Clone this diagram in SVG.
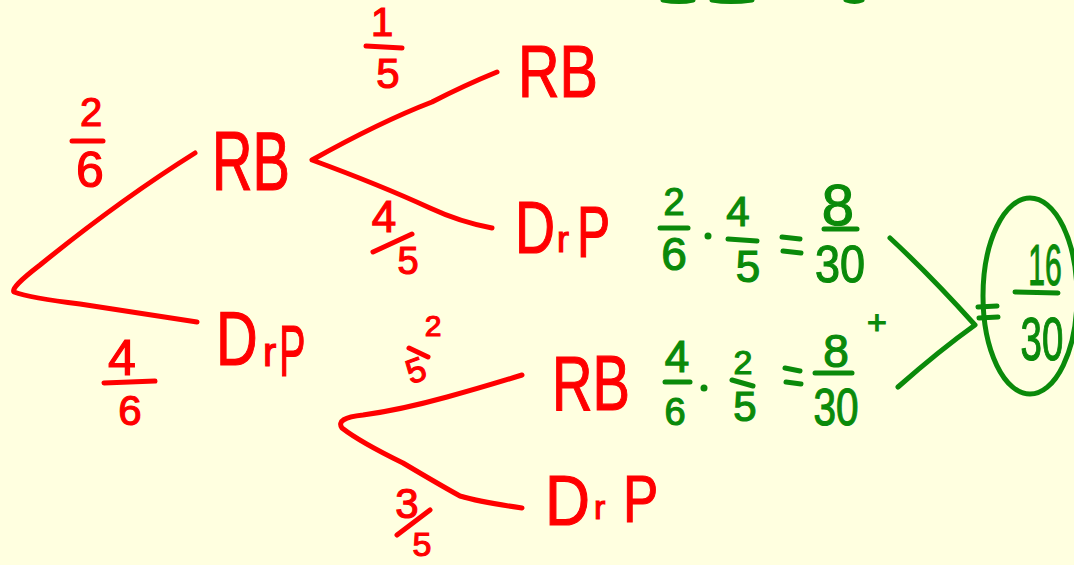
<svg xmlns="http://www.w3.org/2000/svg" width="1074" height="565" viewBox="0 0 1074 565">
<style>
.r{fill:#f00;stroke:#f00;stroke-width:1.2;font-family:"Liberation Sans",Arial,sans-serif;}
.g{fill:#0a8a0a;stroke:#0a8a0a;stroke-width:1.2;font-family:"Liberation Sans",Arial,sans-serif;}
.m{text-anchor:middle;}
.lr{fill:none;stroke:#f00;stroke-width:5;stroke-linecap:round;stroke-linejoin:round;}
.lg{fill:none;stroke:#0a8a0a;stroke-width:5;stroke-linecap:round;stroke-linejoin:round;}
</style>
<rect width="1074" height="565" fill="#ffffe0"/>
<g id="connectors">
<path class="lr" d="M195,153 Q120,200 40,265 Q10,288 14,292 Q30,298 80,304 L197,322"/>
<path class="lr" d="M497,72 Q465,85 432,102 Q380,122 312,160 Q380,185 430,208 Q460,222 492,228"/>
<path class="lr" d="M522,375 Q480,388 447,397 Q400,410 363,415 Q335,418 342,428 Q360,442 403,463 Q440,485 460,496 Q480,502 522,508"/>
<path class="lg" d="M890,238 Q930,275 975,325 Q940,350 898,387"/>
</g>
<g id="top-strokes">
<path class="lg" d="M663,0 Q680,3 693,0 M712,0 Q730,3 752,0 M846,0 Q855,3 862,0"/>
</g>
<g id="node-rb1"><text class="r" x="212" y="190" font-size="84" textLength="78" lengthAdjust="spacingAndGlyphs">RB</text></g>
<g id="node-drp1">
<text class="r" transform="translate(216,365) scale(0.76,1)" font-size="76">D</text>
<text class="r" transform="translate(263,366)" font-size="40">r</text>
<text class="r" transform="translate(279,376) scale(0.55,1)" font-size="72">P</text>
</g>
<g id="node-rb2"><text class="r" x="518" y="97" font-size="74" textLength="80" lengthAdjust="spacingAndGlyphs">RB</text></g>
<g id="node-drp2">
<text class="r" transform="translate(515,253) scale(0.75,1)" font-size="74">D</text>
<text class="r" transform="translate(557,252)" font-size="36">r</text>
<text class="r" transform="translate(577,257) scale(0.69,1)" font-size="72">P</text>
</g>
<g id="node-rb3"><text class="r" x="552" y="410" font-size="78" textLength="78" lengthAdjust="spacingAndGlyphs">RB</text></g>
<g id="node-drp3">
<text class="r" transform="translate(545,525) scale(0.89,1)" font-size="70">D</text>
<text class="r" transform="translate(594,519)" font-size="34">r</text>
<text class="r" transform="translate(623,522) scale(0.8,1)" font-size="66">P</text>
</g>
<g id="label-2-6">
<text class="r m" x="91" y="126" font-size="40">2</text>
<path class="lr" d="M72,141 L103,141"/>
<text class="r m" x="90" y="187" font-size="50">6</text>
</g>
<g id="label-4-6">
<text class="r m" x="122" y="375" font-size="50">4</text>
<path class="lr" d="M104,383 L155,381"/>
<text class="r m" x="130" y="425" font-size="42">6</text>
</g>
<g id="label-1-5">
<text class="r m" x="382" y="36" font-size="40">1</text>
<path class="lr" d="M366,46 L402,48"/>
<text class="r m" x="388" y="88" font-size="42">5</text>
</g>
<g id="label-4-5">
<text class="r m" x="384" y="232" font-size="44">4</text>
<path class="lr" d="M373,252 L412,234"/>
<text class="r m" x="408" y="274" font-size="38">5</text>
</g>
<g id="label-2-5">
<text class="r m" x="433" y="336" font-size="30">2</text>
<path class="lr" d="M409,348 L428,357"/>
<text class="r m" x="415" y="382" font-size="34" transform="rotate(-20 415 368)">5</text>
</g>
<g id="label-3-5">
<text class="r m" x="407" y="518" font-size="42">3</text>
<path class="lr" d="M397,535 L430,510"/>
<text class="r m" x="422" y="556" font-size="34">5</text>
</g>
<g id="eq1">
<text class="g m" x="674" y="215" font-size="38">2</text>
<path class="lg" d="M660,228 L688,228"/>
<text class="g m" x="674" y="270" font-size="46">6</text>
<circle cx="708" cy="236" r="3.5" fill="#0a8a0a"/>
<text class="g m" x="738" y="226" font-size="42">4</text>
<path class="lg" d="M728,239 L757,241"/>
<text class="g m" x="748" y="282" font-size="44">5</text>
<path class="lg" d="M782,237 L800,239 M783,251 L801,253"/>
<text class="g m" x="838" y="225" font-size="58">8</text>
<path class="lg" d="M824,229 L857,229"/>
<text class="g m" x="840" y="282" font-size="52" textLength="50" lengthAdjust="spacingAndGlyphs">30</text>
</g>
<g id="eq2">
<text class="g m" x="677" y="372" font-size="44">4</text>
<path class="lg" d="M665,382 L690,382"/>
<text class="g m" x="675" y="425" font-size="38">6</text>
<circle cx="704" cy="388" r="3.5" fill="#0a8a0a"/>
<text class="g m" x="743" y="374" font-size="34">2</text>
<path class="lg" d="M732,380 L753,386"/>
<text class="g m" x="745" y="421" font-size="42">5</text>
<path class="lg" d="M785,368 L800,371 M786,382 L801,384"/>
<text class="g m" x="836" y="367" font-size="46">8</text>
<path class="lg" d="M815,373 L852,373"/>
<text class="g m" x="836" y="425" font-size="52" textLength="45" lengthAdjust="spacingAndGlyphs">30</text>
</g>
<g id="plus"><text class="g m" x="877" y="334" font-size="34">+</text></g>
<g id="result">
<path class="lg" d="M978,307 L997,306 M979,318 L998,317"/>
<ellipse cx="1030" cy="296" rx="47" ry="98" class="lg"/>
<text class="g m" transform="translate(1045,285) scale(0.52,1)" font-size="58">16</text>
<path class="lg" d="M1015,292 L1058,293"/>
<text class="g m" transform="translate(1042,360) scale(0.62,1)" font-size="62">30</text>
</g>
</svg>
